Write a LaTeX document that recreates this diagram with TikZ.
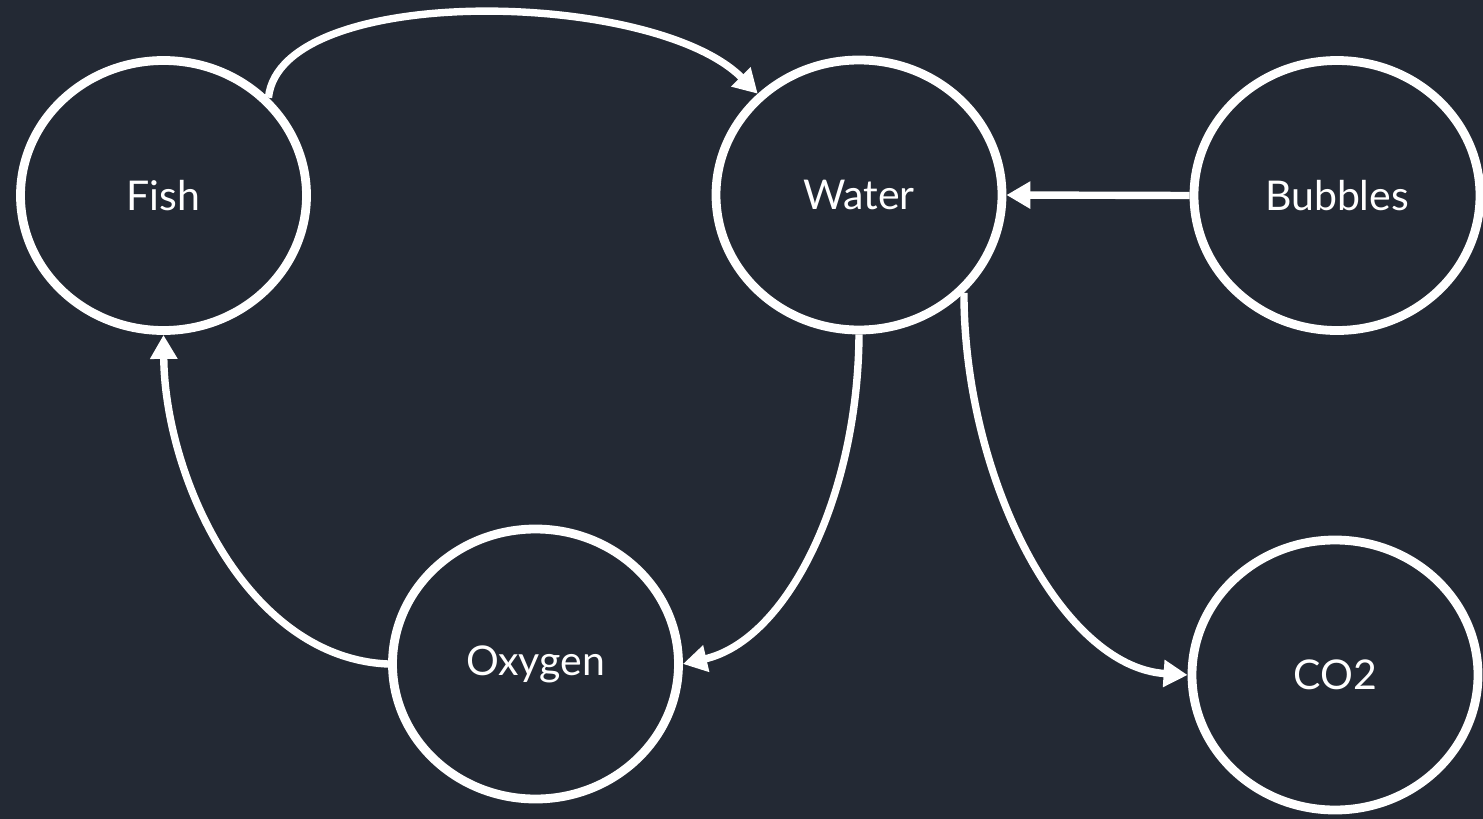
\documentclass[tikz,border=0pt]{standalone}
\usepackage{fontspec}
\setmainfont{Lato}
\usetikzlibrary{arrows.meta,shapes.geometric}
\definecolor{bg}{HTML}{232934}
\begin{document}
\begin{tikzpicture}[x=0.5pt,y=-0.5pt,
  state/.style={ellipse,draw=white,line width=4.4pt,inner sep=0pt,outer sep=2.2pt,
    minimum width=143pt,minimum height=135pt,text=white,font=\fontsize{20.5}{22}\selectfont},
  flow/.style={draw=white,line width=3.7pt,-{Triangle[length=12pt,width=13pt]}}]
  \fill[bg] (0,0) rectangle (1483,819);
  \useasboundingbox (0,0) rectangle (1483,819);

  \node[state] (fish)    at (163.5,195.5) {Fish};
  \node[state] (water)   at (859,195)     {Water};
  \node[state] (bubbles) at (1337,195.5)  {Bubbles};
  \node[state] (oxygen)  at (535.5,664)   {Oxygen};
  \node[state] (co2)     at (1335,675)    {CO2};

  \draw[flow] (fish.43) .. controls +(12,-115) and +(-105,-105) .. (water.135);
  \draw[flow] (bubbles.west) -- (water.east);
  \draw[flow] (water.south) .. controls +(-1,163) and +(104,-24) .. (oxygen.east);
  \draw[flow] (water.-43) .. controls +(0,185) and +(-126,-8) .. (co2.west);
  \draw[flow] (oxygen.west) .. controls +(-141,-6) and +(1.5,143) .. (fish.south);
\end{tikzpicture}
\end{document}
